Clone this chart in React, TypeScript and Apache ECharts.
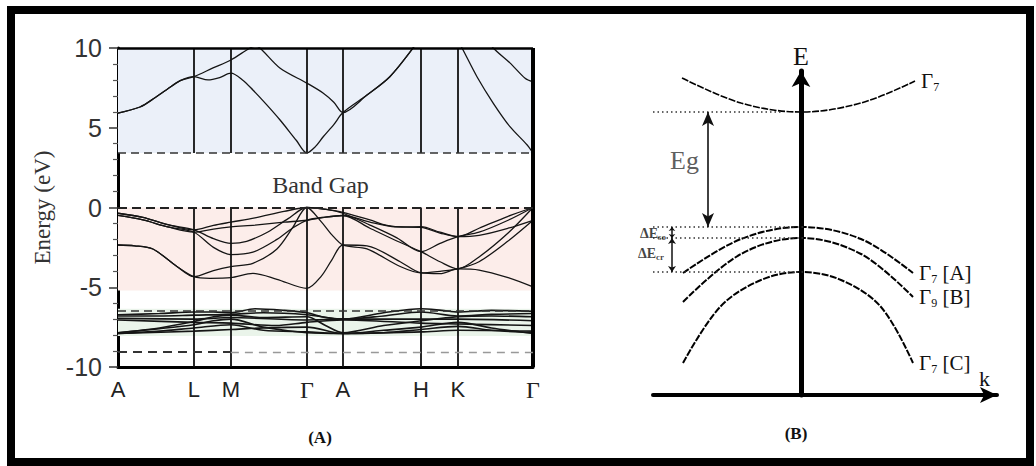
import React, { useEffect, useRef } from "react";
import * as echarts from "echarts";

const SANS = "'Liberation Sans', Arial, sans-serif";
const SERIF = "'Liberation Serif', 'Times New Roman', serif";

// ---------- (A) band structure along the k-path ----------
const kLabels = ["A", "L", "M", "Γ", "A", "H", "K", "Γ"];
const kTicks = [0, 0.183, 0.272, 0.455, 0.542, 0.73, 0.819, 1];
const energyMin = -10;
const energyMax = 10;
const energyStep = 5;

const cbm = 3.42; // conduction band minimum
const vbm = 0; // valence band maximum
const dBandEdge = -6.5;
const deepLevel = -9.05;

const blueRegion = [3.42, 10];
const pinkRegion = [-5.2, 0];
const greenRegion = [-8.05, -6.35];

// conduction bands
const cb1 = [[0, 5.92], [0.053, 6.3], [0.09, 6.9], [0.118, 7.4], [0.15, 7.95], [0.183, 8.2], [0.217, 8.0], [0.245, 8.15], [0.272, 8.42], [0.3, 8.0], [0.325, 7.37], [0.358, 6.45], [0.39, 5.5], [0.43, 4.2], [0.455, 3.42], [0.475, 3.8], [0.494, 4.42], [0.52, 5.2], [0.542, 5.95], [0.6, 7.05], [0.655, 8.2], [0.711, 10], [0.73, 10.8]];
const cb2 = [[0, 5.92], [0.053, 6.3], [0.09, 6.9], [0.118, 7.4], [0.15, 7.95], [0.183, 8.2], [0.229, 8.75], [0.272, 9.25], [0.318, 10.0], [0.33, 10.1], [0.342, 10.0], [0.39, 8.75], [0.455, 7.8], [0.494, 7.18], [0.52, 6.6], [0.542, 5.95], [0.6, 7.05], [0.655, 8.2], [0.711, 10], [0.73, 10.8]];
const cb3 = [[0.82, 10.4], [0.829, 10], [0.865, 8.2], [0.904, 6.55], [0.945, 5.05], [0.986, 3.92], [1, 3.42]];
const cb4 = [[0.895, 10.4], [0.904, 10], [0.945, 9.05], [0.981, 8.1], [1, 7.87]];

// valence bands
const vb1 = [[0, -0.36], [0.06, -0.62], [0.12, -1.08], [0.183, -1.4], [0.23, -1.12], [0.272, -0.92], [0.33, -0.65], [0.4, -0.25], [0.455, 0], [0.5, -0.12], [0.542, -0.3], [0.607, -0.78], [0.648, -1.12], [0.69, -1.22], [0.73, -1.2], [0.776, -1.55], [0.819, -1.83], [0.87, -1.3], [0.94, -0.55], [1, 0]];
const vb2 = [[0, -0.5], [0.06, -0.78], [0.12, -1.22], [0.183, -1.55], [0.23, -1.35], [0.272, -1.22], [0.33, -1.1], [0.4, -0.92], [0.455, -0.8], [0.5, -0.6], [0.542, -0.5], [0.607, -0.92], [0.66, -1.2], [0.73, -1.25], [0.776, -1.6], [0.819, -1.83], [0.87, -1.75], [0.94, -1.3], [1, -0.8]];
const vb3 = [[0, -0.36], [0.06, -0.62], [0.12, -1.08], [0.183, -1.4], [0.23, -1.95], [0.272, -2.25], [0.31, -2.12], [0.36, -1.55], [0.41, -0.7], [0.455, 0], [0.5, -0.1], [0.542, -0.36], [0.607, -1.1], [0.672, -1.9], [0.73, -2.77], [0.776, -2.25], [0.819, -1.83], [0.87, -1.55], [0.94, -0.8], [1, 0]];
const vb4 = [[0, -0.5], [0.06, -0.78], [0.12, -1.22], [0.183, -1.55], [0.23, -2.5], [0.272, -2.95], [0.325, -2.8], [0.383, -2.0], [0.42, -1.3], [0.455, -0.8], [0.5, -0.6], [0.542, -0.5], [0.607, -1.3], [0.672, -2.1], [0.73, -2.77], [0.776, -3.4], [0.819, -3.85], [0.87, -3.1], [0.94, -1.6], [1, 0]];
const vb5 = [[0, -2.35], [0.04, -2.4], [0.084, -2.6], [0.142, -3.7], [0.183, -4.34], [0.222, -4.44], [0.272, -4.4], [0.325, -4.13], [0.383, -4.5], [0.455, -5.07], [0.49, -4.3], [0.515, -3.3], [0.542, -2.35], [0.6, -2.4], [0.68, -3.4], [0.73, -4.1], [0.776, -4.15], [0.819, -3.85], [0.87, -3.92], [0.94, -4.4], [1, -4.98]];
const vb6 = [[0, -2.35], [0.04, -2.4], [0.084, -2.6], [0.142, -3.7], [0.183, -4.34], [0.23, -3.95], [0.272, -3.7], [0.325, -3.5], [0.383, -2.6], [0.42, -1.3], [0.455, 0], [0.49, -0.9], [0.515, -1.7], [0.542, -2.35], [0.6, -2.6], [0.68, -3.7], [0.73, -4.1], [0.776, -4.0], [0.819, -3.85], [0.87, -3.4], [0.94, -2.1], [1, -0.8]];

// semicore d bands
const db1 = [[0, -6.72], [0.1, -6.65], [0.183, -6.55], [0.23, -6.55], [0.272, -6.6], [0.33, -6.35], [0.4, -6.45], [0.455, -6.6], [0.5, -6.9], [0.542, -7.0], [0.64, -6.6], [0.73, -6.35], [0.78, -6.45], [0.819, -6.55], [0.9, -6.45], [1, -6.5]];
const db2 = [[0, -6.8], [0.1, -6.8], [0.183, -6.75], [0.272, -6.7], [0.35, -6.6], [0.455, -6.72], [0.542, -7.0], [0.64, -6.8], [0.73, -6.55], [0.819, -6.8], [0.9, -6.7], [1, -6.65]];
const db3 = [[0, -7.85], [0.1, -7.55], [0.183, -7.15], [0.23, -6.85], [0.272, -6.75], [0.35, -6.9], [0.455, -6.85], [0.5, -7.4], [0.542, -7.85], [0.64, -7.4], [0.73, -7.1], [0.819, -6.85], [0.9, -6.8], [1, -6.85]];
const db4 = [[0, -7.85], [0.1, -7.6], [0.183, -7.35], [0.23, -7.1], [0.272, -7.0], [0.35, -7.5], [0.455, -7.85], [0.542, -7.9], [0.64, -7.7], [0.73, -7.5], [0.819, -7.2], [0.9, -7.55], [1, -7.9]];
const db5 = [[0, -7.9], [0.1, -7.75], [0.183, -7.55], [0.272, -7.35], [0.35, -7.7], [0.455, -7.8], [0.542, -7.9], [0.64, -7.85], [0.73, -7.65], [0.819, -7.45], [0.9, -7.7], [1, -7.85]];
const db6 = [[0, -7.9], [0.183, -7.75], [0.272, -7.65], [0.35, -7.55], [0.455, -7.5], [0.542, -7.9], [0.73, -7.8], [0.819, -7.7], [1, -7.75]];
const db7 = [[0, -6.95], [0.183, -7.0], [0.272, -6.9], [0.455, -7.05], [0.542, -7.0], [0.73, -7.0], [0.819, -7.0], [1, -7.1]];
const db8 = [[0, -7.05], [0.183, -7.2], [0.272, -7.25], [0.38, -7.4], [0.455, -7.2], [0.542, -7.05], [0.73, -7.25], [0.819, -7.3], [1, -7.4]];

// ---------- (B) schematic near Γ ----------
const condGamma7 = [[-0.595, 1.49], [-0.3, 1.24], [0, 1.15], [0.3, 1.24], [0.57, 1.46]];
const valA = [[-0.59, -0.46], [-0.3, -0.12], [0, 0], [0.3, -0.12], [0.56, -0.46]];
const valB = [[-0.59, -0.75], [-0.3, -0.27], [0, -0.11], [0.3, -0.27], [0.56, -0.7]];
const valC = [[-0.59, -1.36], [-0.405, -0.8], [-0.2, -0.53], [0, -0.45], [0.2, -0.53], [0.4, -0.8], [0.56, -1.36]];
const bandNames = ["{g|Γ}{s|7}", "{g|Γ}{s|7}{g| [A]}", "{g|Γ}{s|9}{g| [B]}", "{g|Γ}{s|7}{g| [C]}"];

const levelCB = 1.15;
const levelA = 0;
const levelB = -0.11;
const levelC = -0.45;
const egArrowK = -0.465;
const splitArrowK = -0.645;

const bandLineA = (data: number[][], width: number) => ({
  type: "line",
  xAxisIndex: 0,
  yAxisIndex: 0,
  data,
  smooth: 0.3,
  symbol: "none",
  silent: true,
  z: 4,
  lineStyle: { color: "#151515", width },
});

const richGamma = {
  g: { fontFamily: SERIF, fontSize: 21, color: "#111" },
  s: { fontFamily: SERIF, fontSize: 12, color: "#111", verticalAlign: "bottom", padding: [12, 0, 0, 0] },
};

const bandLineB = (data: number[][], name: string, width: number) => ({
  type: "line",
  xAxisIndex: 1,
  yAxisIndex: 1,
  data,
  smooth: 0.35,
  symbol: "none",
  showSymbol: false,
  silent: true,
  z: 4,
  lineStyle: { color: "#000", width, type: [7, 1.5] },
  endLabel: { show: true, distance: 6, formatter: name, rich: richGamma },
});

const splitRich = {
  d: { fontFamily: SERIF, fontSize: 14, fontWeight: "bold", color: "#111" },
  s: { fontFamily: SERIF, fontSize: 9, fontWeight: "bold", color: "#111", verticalAlign: "bottom", padding: [7, 0, 0, 0] },
};

const option = {
  animation: false,
  backgroundColor: "#fff",
  grid: [
    { left: 118, top: 48, width: 415, height: 319 },
    { left: 653, top: 71, width: 344, height: 324 },
  ],
  xAxis: [
    {
      type: "value",
      gridIndex: 0,
      min: 0,
      max: 1,
      axisLine: { show: true, onZero: false, lineStyle: { color: "#000", width: 3 } },
      axisTick: { show: false },
      splitLine: { show: false },
      axisLabel: {
        customValues: kTicks,
        margin: 11,
        fontFamily: SANS,
        fontSize: 22,
        color: "#222",
        formatter: (v: number) => {
          const i = kTicks.findIndex((t) => Math.abs(t - v) < 1e-6);
          const s = i >= 0 ? kLabels[i] : "";
          return s === "Γ" ? "{g|Γ}" : s;
        },
        rich: { g: { fontFamily: SERIF, fontSize: 24, color: "#222" } },
      },
    },
    {
      type: "value",
      gridIndex: 1,
      min: -0.74,
      max: 0.98,
      axisLine: {
        show: true,
        onZero: false,
        symbol: ["none", "arrow"],
        symbolSize: [12, 17],
        lineStyle: { color: "#000", width: 4 },
      },
      axisTick: { show: false },
      axisLabel: { show: false },
      splitLine: { show: false },
      name: "k",
      nameLocation: "end",
      nameGap: -18,
      nameTextStyle: { fontFamily: SERIF, fontSize: 22, color: "#111", verticalAlign: "bottom", padding: [0, 0, 6, 0] },
    },
  ],
  yAxis: [
    {
      type: "value",
      gridIndex: 0,
      min: energyMin,
      max: energyMax,
      interval: energyStep,
      axisLine: { show: true, onZero: false, lineStyle: { color: "#000", width: 3 } },
      axisTick: { show: true, length: 9, lineStyle: { color: "#333", width: 1.5 } },
      minorTick: { show: true, splitNumber: 5, length: 5, lineStyle: { color: "#555", width: 1.2 } },
      splitLine: { show: false },
      axisLabel: { margin: 16, fontFamily: SANS, fontSize: 25, color: "#333" },
      name: "Energy (eV)",
      nameLocation: "middle",
      nameRotate: 90,
      nameGap: 64,
      nameTextStyle: { fontFamily: SERIF, fontSize: 23, color: "#333" },
    },
    {
      type: "value",
      gridIndex: 1,
      min: -1.68,
      max: 1.56,
      axisLine: {
        show: true,
        onZero: true,
        symbol: ["none", "arrow"],
        symbolSize: [14, 16],
        lineStyle: { color: "#000", width: 5 },
      },
      axisTick: { show: false },
      axisLabel: { show: false },
      splitLine: { show: false },
      name: "E",
      nameLocation: "end",
      nameGap: 2,
      nameTextStyle: { fontFamily: SERIF, fontSize: 26, color: "#111" },
    },
  ],
  series: [
    // shaded energy regions and the gap label
    {
      type: "line",
      xAxisIndex: 0,
      yAxisIndex: 0,
      data: [],
      silent: true,
      z: 1,
      markArea: {
        silent: true,
        data: [
          [{ xAxis: 0, yAxis: blueRegion[0], itemStyle: { color: "#ebf0f9" } }, { xAxis: 1, yAxis: blueRegion[1] }],
          [{ xAxis: 0, yAxis: pinkRegion[0], itemStyle: { color: "#fcedea" } }, { xAxis: 1, yAxis: pinkRegion[1] }],
          [{ xAxis: 0, yAxis: greenRegion[0], itemStyle: { color: "#eaf4ea" } }, { xAxis: 1, yAxis: greenRegion[1] }],
          [
            {
              xAxis: 0,
              yAxis: vbm,
              name: "Band Gap",
              itemStyle: { color: "rgba(0,0,0,0)" },
              label: { show: true, position: "inside", offset: [-5, 5], fontFamily: SERIF, fontSize: 24, color: "#333" },
            },
            { xAxis: 1, yAxis: cbm },
          ],
        ],
      },
    },
    // high-symmetry verticals, top and right frame
    {
      type: "line",
      xAxisIndex: 0,
      yAxisIndex: 0,
      data: [],
      silent: true,
      z: 3,
      markLine: {
        silent: true,
        symbol: ["none", "none"],
        label: { show: false },
        lineStyle: { type: "solid", color: "#111", width: 1.8 },
        data: [
          ...kTicks.slice(1, -1).flatMap((k) => [
            [{ coord: [k, energyMin] }, { coord: [k, vbm] }],
            [{ coord: [k, cbm] }, { coord: [k, energyMax] }],
          ]),
          [{ coord: [0, energyMax], lineStyle: { width: 2.5, color: "#000" } }, { coord: [1, energyMax] }],
          [{ coord: [1, energyMin], lineStyle: { width: 4, color: "#000" } }, { coord: [1, energyMax] }],
        ],
      },
    },
    // dashed reference levels
    {
      type: "line",
      xAxisIndex: 0,
      yAxisIndex: 0,
      data: [],
      silent: true,
      z: 3,
      markLine: {
        silent: true,
        symbol: ["none", "none"],
        label: { show: false },
        lineStyle: { type: [8, 5], color: "#333", width: 1.6 },
        data: [
          { yAxis: cbm },
          { yAxis: vbm, lineStyle: { type: [9, 5], color: "#222", width: 2.2 } },
          { yAxis: dBandEdge },
          [{ coord: [0, deepLevel], lineStyle: { type: [9, 6], color: "#333", width: 2 } }, { coord: [kTicks[2], deepLevel] }],
          [{ coord: [kTicks[2], deepLevel], lineStyle: { type: [8, 6], color: "#999", width: 1.3 } }, { coord: [1, deepLevel] }],
        ],
      },
    },
    ...[cb1, cb2, cb3, cb4, vb1, vb2, vb3, vb4, vb5, vb6].map((d) => bandLineA(d, 1.3)),
    ...[db1, db2, db3, db4, db5, db6, db7, db8].map((d) => bandLineA(d, 1.6)),

    // (B) bands
    bandLineB(condGamma7, bandNames[0], 1.6),
    bandLineB(valA, bandNames[1], 2),
    bandLineB(valB, bandNames[2], 2),
    bandLineB(valC, bandNames[3], 2),
    // (B) dotted levels and arrows
    {
      type: "line",
      xAxisIndex: 1,
      yAxisIndex: 1,
      data: [],
      silent: true,
      z: 3,
      markLine: {
        silent: true,
        symbol: ["none", "none"],
        label: { show: false },
        lineStyle: { type: [1.5, 3], color: "#333", width: 1.5 },
        data: [
          [{ coord: [-0.74, levelCB] }, { coord: [-0.1, levelCB] }],
          [{ coord: [-0.74, levelA] }, { coord: [0.02, levelA] }],
          [{ coord: [-0.74, levelB] }, { coord: [0.02, levelB] }],
          [{ coord: [-0.74, levelC] }, { coord: [0.02, levelC] }],
          [
            { coord: [egArrowK, levelCB], symbol: "arrow", symbolSize: [9, 14], lineStyle: { type: "solid", color: "#111", width: 1.6 } },
            { coord: [egArrowK, levelA], symbol: "arrow", symbolSize: [9, 14] },
          ],
          [
            { coord: [splitArrowK, levelA], symbol: "arrow", symbolSize: [5, 4], lineStyle: { type: "solid", color: "#111", width: 1.5 } },
            { coord: [splitArrowK, levelB], symbol: "arrow", symbolSize: [5, 4] },
          ],
          [
            { coord: [splitArrowK, levelB], symbol: "arrow", symbolSize: [6, 6], lineStyle: { type: "solid", color: "#111", width: 1.5 } },
            { coord: [splitArrowK, levelC], symbol: "arrow", symbolSize: [6, 6] },
          ],
        ],
      },
    },
    // (B) gap and splitting labels
    {
      type: "scatter",
      xAxisIndex: 1,
      yAxisIndex: 1,
      symbolSize: 0,
      silent: true,
      z: 5,
      label: { show: true, color: "#111" },
      data: [
        { value: [egArrowK, 0.67], label: { formatter: "Eg", position: "left", distance: 9, fontFamily: SERIF, fontSize: 26, color: "#333" } },
        {
          value: [splitArrowK, (levelA + levelB) / 2 - 0.01],
          label: { formatter: "{d|ΔE}{s|so}", position: "left", distance: 6, rich: splitRich },
        },
        {
          value: [splitArrowK, (levelB + levelC) / 2 + 0.02],
          label: { formatter: "{d|ΔE}{s|cr}", position: "left", distance: 8, rich: splitRich },
        },
      ],
    },
  ],
  graphic: [
    {
      type: "rect",
      silent: true,
      z: 100,
      shape: { x: 11, y: 10, width: 1019, height: 452 },
      style: { fill: "none", stroke: "#000", lineWidth: 8 },
    },
    {
      type: "text",
      silent: true,
      x: 320,
      y: 437,
      style: { text: "(A)", fontFamily: SERIF, fontSize: 17, fontWeight: "bold", fill: "#111", align: "center", verticalAlign: "middle" },
    },
    {
      type: "text",
      silent: true,
      x: 796,
      y: 433,
      style: { text: "(B)", fontFamily: SERIF, fontSize: 17, fontWeight: "bold", fill: "#111", align: "center", verticalAlign: "middle" },
    },
  ],
};

export default function App() {
  const ref = useRef<HTMLDivElement>(null);
  useEffect(() => {
    if (!ref.current) return;
    const chart = echarts.init(ref.current, null, { renderer: "svg" });
    chart.setOption(option as any);
    return () => chart.dispose();
  }, []);
  return (
    <div
      ref={ref}
      style={{ position: "fixed", left: 0, top: 0, width: 1036, height: 466, background: "#fff" }}
    />
  );
}
